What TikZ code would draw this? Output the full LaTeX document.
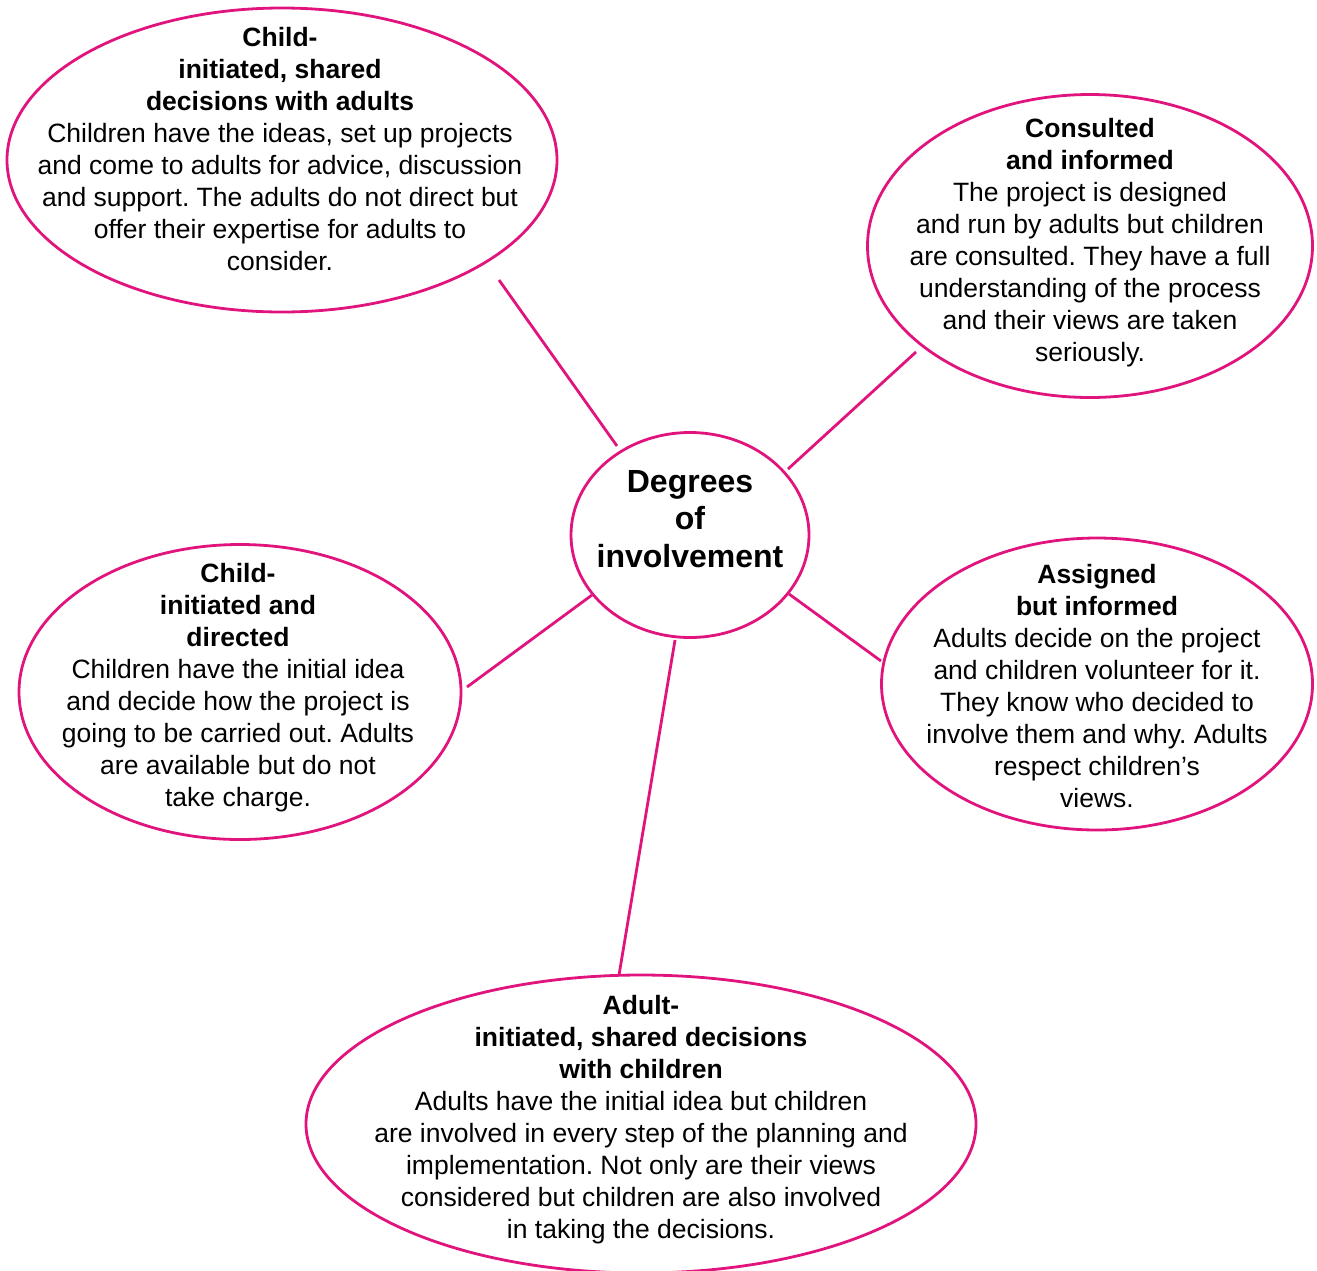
\documentclass[tikz,border=0pt]{standalone}
\usepackage{fontspec}
\setmainfont{Liberation Sans}
\usetikzlibrary{shapes.geometric}
\definecolor{pinkline}{HTML}{E0147C}
\tikzset{
  bubble/.style={draw=pinkline, line width=2.8pt, ellipse, inner sep=0pt},
  body/.style={align=center, inner sep=0pt, font=\fontsize{26.5}{32}\selectfont},
  hub/.style={align=center, inner sep=0pt, font=\fontsize{32}{37.5}\selectfont\bfseries},
  link/.style={draw=pinkline, line width=2.8pt}
}
\begin{document}
\frenchspacing
\begin{tikzpicture}[x=1pt,y=-1pt]
\useasboundingbox (0,0) rectangle (1317,1270);
% ellipses
\node[bubble, minimum width=550pt, minimum height=304pt] (tl) at (282,160) {};
\node[bubble, minimum width=445pt, minimum height=303pt] (tr) at (1090,246) {};
\node[bubble, minimum width=238pt, minimum height=205pt] (hubE) at (690,535) {};
\node[bubble, minimum width=442pt, minimum height=295pt] (ml) at (240,692) {};
\node[bubble, minimum width=431pt, minimum height=292pt] (mr) at (1097,684) {};
\node[bubble, minimum width=670pt, minimum height=298pt] (bt) at (641,1124) {};
% texts
\node[body] (tlT) at (280,149) {\textbf{Child-}\\\textbf{initiated, shared}\\\textbf{decisions with adults}\\Children have the ideas, set up projects\\and come to adults for advice, discussion\\and support. The adults do not direct but\\offer their expertise for adults to\\consider.};
\node[body] (trT) at (1090,243) {\textbf{Consulted}\\\textbf{and informed}\\The project is designed\\and run by adults but children\\are consulted. They have a full\\understanding of the process\\and their views are taken\\seriously.};
\node[hub] (hubT) at (690,519) {Degrees\\of\\involvement};
\node[body] (mlT) at (238,688) {\textbf{Child-}\\\textbf{initiated and}\\\textbf{directed}\\Children have the initial idea\\and decide how the project is\\going to be carried out. Adults\\are available but do not\\take charge.};
\node[body] (mrT) at (1097,686) {\textbf{Assigned}\\\textbf{but informed}\\Adults decide on the project\\and children volunteer for it.\\They know who decided to\\involve them and why. Adults\\respect children’s\\views.};
\node[body] (btT) at (641,1120) {\textbf{Adult-}\\\textbf{initiated, shared decisions}\\\textbf{with children}\\Adults have the initial idea but children\\are involved in every step of the planning and\\implementation. Not only are their views\\considered but children are also involved\\in taking the decisions.};
% connector ends
\coordinate (a1) at (499,280); \coordinate (a2) at (617,446);
\coordinate (b1) at (916,352); \coordinate (b2) at (788,469);
\coordinate (c1) at (592,595); \coordinate (c2) at (467,687);
\coordinate (d1) at (789,594); \coordinate (d2) at (881,661);
\coordinate (e1) at (675,640); \coordinate (e2) at (619,975);
\draw[link] (a1) -- (a2);
\draw[link] (b1) -- (b2);
\draw[link] (c1) -- (c2);
\draw[link] (d1) -- (d2);
\draw[link] (e1) -- (e2);
\end{tikzpicture}
\end{document}
